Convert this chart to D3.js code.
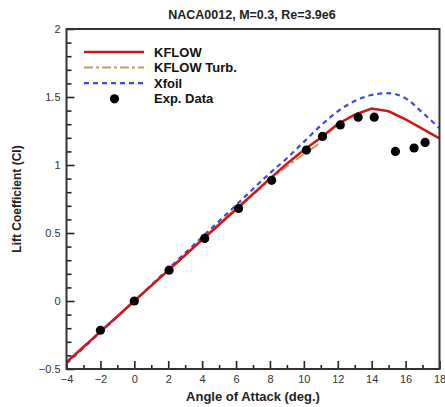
<!DOCTYPE html>
<html>
<head>
<meta charset="utf-8">
<script src="https://cdn.jsdelivr.net/npm/d3@7"></script>
<style>
  body { margin: 0; background: #fff; }
  svg { font-family: "Liberation Sans", Arial, sans-serif; }
</style>
</head>
<body>
<div id="chart"></div>
<script>
// DATA
var kflowAlpha = [-4, -2, 0, 2, 4, 6, 8, 9, 10, 11, 12, 13, 14, 15, 16, 17, 18];
var kflowCl    = [-0.45, -0.225, 0, 0.225, 0.45, 0.675, 0.9, 1.01, 1.11, 1.2, 1.3, 1.37, 1.415, 1.395, 1.335, 1.265, 1.195];

var turbAlpha = [-4, -2, 0, 2, 4, 6, 8, 9, 10, 11];
var turbCl    = [-0.447, -0.223, 0, 0.223, 0.447, 0.67, 0.893, 0.99, 1.08, 1.165];

var xfoilAlpha = [-4, -2, 0, 2, 4, 6, 8, 9, 10, 11, 12, 13, 14, 15, 16, 17, 18];
var xfoilCl    = [-0.46, -0.23, 0, 0.235, 0.47, 0.705, 0.94, 1.05, 1.17, 1.29, 1.395, 1.47, 1.515, 1.528, 1.49, 1.385, 1.27];

var expAlpha = [-2, 0, 2.05, 4.15, 6.15, 8.1, 10.15, 11.1, 12.15, 13.2, 14.15, 15.4, 16.5, 17.15];
var expCl    = [-0.215, 0, 0.227, 0.46, 0.68, 0.887, 1.11, 1.21, 1.295, 1.352, 1.352, 1.1, 1.125, 1.166];

var xTicks = [-4, -2, 0, 2, 4, 6, 8, 10, 12, 14, 16, 18];
var yTicks = [-0.5, 0, 0.5, 1, 1.5, 2];

// dimensions
var W = 445, H = 407;
var margin = {top: 29, right: 5.5, bottom: 38, left: 66.5};
var width = W - margin.left - margin.right,
    height = H - margin.top - margin.bottom;

var svg = d3.select("#chart").append("svg")
    .attr("width", W)
    .attr("height", H);

var g = svg.append("g")
    .attr("transform", "translate(" + margin.left + "," + margin.top + ")");

var x = d3.scaleLinear().domain([-4, 18]).range([0, width]);
var y = d3.scaleLinear().domain([-0.5, 2]).range([height, 0]);

// ticks pointing inward
var xMinor = d3.range(-3, 18, 2);
var yMinor = d3.range(-0.4, 2.0, 0.1).filter(function(v) { return Math.abs(v * 2 - Math.round(v * 2)) > 0.01; });

var xAxis = g.append("g")
    .attr("transform", "translate(0," + height + ")")
    .call(d3.axisBottom(x).tickValues(xTicks).tickSizeInner(-8).tickSizeOuter(0).tickPadding(4)
      .tickFormat(d3.format("d")));
g.append("g")
    .attr("transform", "translate(0," + height + ")")
    .call(d3.axisBottom(x).tickValues(xMinor).tickSize(-4).tickSizeOuter(0).tickFormat(""));

var yAxis = g.append("g")
    .call(d3.axisLeft(y).tickValues(yTicks).tickSizeInner(-8).tickSizeOuter(0).tickPadding(6)
      .tickFormat(function(d) { return d === 0 ? "0" : d3.format("")(d); }));
g.append("g")
    .call(d3.axisLeft(y).tickValues(yMinor).tickSize(-5).tickSizeOuter(0).tickFormat(""));

g.selectAll(".domain").remove();
g.selectAll(".tick line").attr("stroke", "#222").attr("stroke-width", 1.6);
g.selectAll(".tick text")
    .style("font-size", "11px")
    .attr("fill", "#333");
xAxis.selectAll(".tick text").attr("dy", "0.9em");

// lines
var line = d3.line()
    .x(function(d) { return x(d[0]); })
    .y(function(d) { return y(d[1]); });

var clip = g.append("clipPath").attr("id", "clip")
  .append("rect").attr("width", width).attr("height", height);

var plot = g.append("g").attr("clip-path", "url(#clip)");

plot.append("path")
    .datum(d3.zip(turbAlpha, turbCl))
    .attr("d", line)
    .attr("fill", "none")
    .attr("stroke", "#c99a63")
    .attr("stroke-width", 2)
    .attr("stroke-dasharray", "9,3,3,3");

plot.append("path")
    .datum(d3.zip(xfoilAlpha, xfoilCl))
    .attr("d", line.curve(d3.curveMonotoneX))
    .attr("fill", "none")
    .attr("stroke", "#4646e0")
    .attr("stroke-width", 2.2)
    .attr("stroke-dasharray", "5,4");

plot.append("path")
    .datum(d3.zip(kflowAlpha, kflowCl))
    .attr("d", line.curve(d3.curveLinear))
    .attr("fill", "none")
    .attr("stroke", "#cc1a1a")
    .attr("stroke-width", 2.6);

plot.selectAll(".exp")
    .data(d3.zip(expAlpha, expCl))
    .enter().append("circle")
    .attr("class", "exp")
    .attr("cx", function(d) { return x(d[0]); })
    .attr("cy", function(d) { return y(d[1]); })
    .attr("r", 4.6)
    .attr("fill", "#000");

// frame
g.append("rect")
    .attr("width", width)
    .attr("height", height)
    .attr("fill", "none")
    .attr("stroke", "#333")
    .attr("stroke-width", 2);

// legend
var legend = [
  {name: "KFLOW", color: "#cc1a1a", dash: null, w: 2.6},
  {name: "KFLOW Turb.", color: "#c99a63", dash: "9,3,3,3", w: 2},
  {name: "Xfoil", color: "#4646e0", dash: "5,4", w: 2.2},
  {name: "Exp. Data", dot: true}
];
var lg = svg.append("g");
legend.forEach(function(d, i) {
  var yy = 52 + i * 15.6;
  if (d.dot) {
    lg.append("circle").attr("cx", 114.5).attr("cy", yy).attr("r", 4.6).attr("fill", "#000");
  } else {
    lg.append("line")
      .attr("x1", 84).attr("x2", 144).attr("y1", yy).attr("y2", yy)
      .attr("stroke", d.color).attr("stroke-width", d.w)
      .attr("stroke-dasharray", d.dash);
  }
  lg.append("text")
    .attr("x", 154).attr("y", yy + 4.5)
    .style("font-size", "13px").style("font-weight", "bold")
    .attr("fill", "#111")
    .text(d.name);
});

// title and axis labels
svg.append("text")
    .attr("x", 252).attr("y", 19)
    .attr("text-anchor", "middle")
    .style("font-size", "12.5px").style("font-weight", "bold")
    .attr("fill", "#222")
    .text("NACA0012, M=0.3, Re=3.9e6");

svg.append("text")
    .attr("x", 253).attr("y", 401)
    .attr("text-anchor", "middle")
    .style("font-size", "13px").style("font-weight", "bold")
    .attr("fill", "#222")
    .text("Angle of Attack (deg.)");

svg.append("text")
    .attr("transform", "translate(21,199) rotate(-90)")
    .attr("text-anchor", "middle")
    .style("font-size", "12px").style("font-weight", "bold")
    .attr("fill", "#222")
    .text("Lift Coefficient (Cl)");
</script>
</body>
</html>
